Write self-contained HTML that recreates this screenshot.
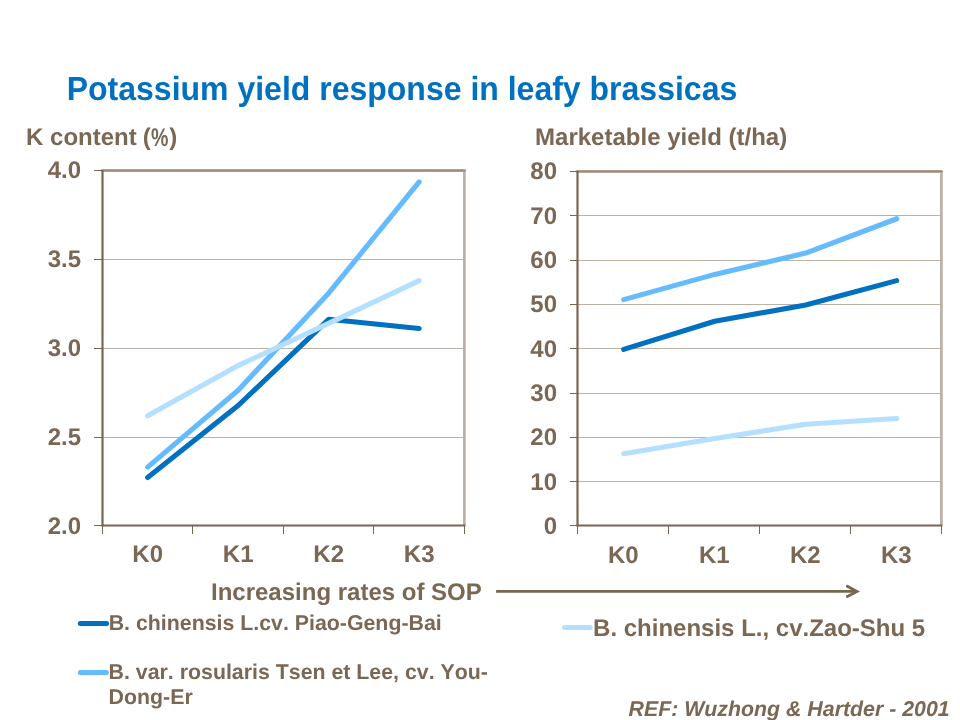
<!DOCTYPE html>
<html><head><meta charset="utf-8">
<style>
html,body{margin:0;padding:0;background:#fff;width:960px;height:720px;overflow:hidden}
svg{display:block;will-change:transform;transform:translateZ(0)}
text{font-family:"Liberation Sans",sans-serif;font-weight:bold;fill:#7a6754;font-kerning:none;text-rendering:geometricPrecision}
</style></head>
<body>
<svg width="960" height="720" viewBox="0 0 960 720">
<rect width="960" height="720" fill="#fff"/>
<!-- title -->
<text transform="translate(66.7,100) scale(1,1.045)" font-size="32" style="fill:#0070C0">Potassium yield response in leafy brassicas</text>
<text x="26.1" y="144.7" font-size="24">K content</text><text x="142.7" y="144.7" font-size="24">(</text><text transform="translate(150.9,145.9) scale(0.816,1.065)" font-size="24">%</text><text x="169.3" y="144.7" font-size="24">)</text>
<text x="535.1" y="144.7" font-size="24">Marketable yield (t/ha)</text>

<!-- LEFT CHART -->
<g>
  <!-- gridlines -->
  <g stroke="#bdb1a5" stroke-width="1" fill="none">
    <line x1="102" y1="259.5" x2="464" y2="259.5"/>
    <line x1="102" y1="348.5" x2="464" y2="348.5"/>
    <line x1="102" y1="437.5" x2="464" y2="437.5"/>
  </g>
  <!-- plot border top/right -->
  <line x1="464.4" y1="171" x2="464.4" y2="525" stroke="#bcb0a4" stroke-width="2.7"/>
  <line x1="102" y1="170.6" x2="464.6" y2="170.6" stroke="#b3a597" stroke-width="3" stroke-linecap="round"/>
  <line x1="102" y1="170.6" x2="465" y2="170.6" stroke="#9b8a7a" stroke-width="1.2"/>
  <!-- axes -->
  <g stroke="#7a6650" fill="none">
    <line x1="102.5" y1="170" x2="102.5" y2="526.5" stroke-width="2.2"/>
    <line x1="101.5" y1="525.5" x2="465.5" y2="525.5" stroke-width="2.2"/>
    <g stroke-width="1">
      <line x1="94" y1="170.5" x2="102" y2="170.5"/>
      <line x1="94" y1="259.5" x2="102" y2="259.5"/>
      <line x1="94" y1="348.5" x2="102" y2="348.5"/>
      <line x1="94" y1="437.5" x2="102" y2="437.5"/>
      <line x1="94" y1="525.5" x2="102" y2="525.5"/>
      <line x1="102.5" y1="526" x2="102.5" y2="534"/>
      <line x1="192.5" y1="526" x2="192.5" y2="534"/>
      <line x1="283.5" y1="526" x2="283.5" y2="534"/>
      <line x1="373.5" y1="526" x2="373.5" y2="534"/>
      <line x1="464.5" y1="526" x2="464.5" y2="534"/>
    </g>
  </g>
  <!-- y labels -->
  <g font-size="24" text-anchor="end">
    <text x="81" y="178">4.0</text>
    <text x="81" y="267">3.5</text>
    <text x="81" y="356">3.0</text>
    <text x="81" y="445">2.5</text>
    <text x="81" y="534">2.0</text>
  </g>
  <g font-size="24" text-anchor="middle">
    <text x="147.65" y="562">K0</text>
    <text x="238.15" y="562">K1</text>
    <text x="328.65" y="562">K2</text>
    <text x="419.15" y="562">K3</text>
  </g>
  <!-- series -->
  <g fill="none" stroke-width="5.1" stroke-linecap="round" stroke-linejoin="round">
    <polyline stroke="#0070C0" points="147.65,477.5 238.15,405.5 328.65,319.3 419.15,328.5"/>
    <polyline stroke="#66BBFF" points="147.65,467.1 238.15,390.2 328.65,293.2 419.15,181.9"/>
    <polyline stroke="#B4DFFF" points="147.65,415.8 238.15,365.6 328.65,323.4 419.15,280.6"/>
  </g>
</g>

<!-- RIGHT CHART -->
<g>
  <g stroke="#bdb1a5" stroke-width="1" fill="none">
    <line x1="577" y1="215.5" x2="941" y2="215.5"/>
    <line x1="577" y1="260.5" x2="941" y2="260.5"/>
    <line x1="577" y1="304.5" x2="941" y2="304.5"/>
    <line x1="577" y1="348.5" x2="941" y2="348.5"/>
    <line x1="577" y1="393.5" x2="941" y2="393.5"/>
    <line x1="577" y1="437.5" x2="941" y2="437.5"/>
    <line x1="577" y1="481.5" x2="941" y2="481.5"/>
  </g>
  <line x1="941.4" y1="172" x2="941.4" y2="525" stroke="#bcb0a4" stroke-width="2.7"/>
  <line x1="577" y1="171.4" x2="941.6" y2="171.4" stroke="#b3a597" stroke-width="3" stroke-linecap="round"/>
  <line x1="577" y1="171.4" x2="942" y2="171.4" stroke="#9b8a7a" stroke-width="1.2"/>
  <g stroke="#7a6650" fill="none">
    <line x1="577.5" y1="171" x2="577.5" y2="526.5" stroke-width="2.2"/>
    <line x1="576.5" y1="525.5" x2="942.5" y2="525.5" stroke-width="2.2"/>
    <g stroke-width="1">
      <line x1="570" y1="171.5" x2="577" y2="171.5"/>
      <line x1="570" y1="215.5" x2="577" y2="215.5"/>
      <line x1="570" y1="260.5" x2="577" y2="260.5"/>
      <line x1="570" y1="304.5" x2="577" y2="304.5"/>
      <line x1="570" y1="348.5" x2="577" y2="348.5"/>
      <line x1="570" y1="393.5" x2="577" y2="393.5"/>
      <line x1="570" y1="437.5" x2="577" y2="437.5"/>
      <line x1="570" y1="481.5" x2="577" y2="481.5"/>
      <line x1="570" y1="525.5" x2="577" y2="525.5"/>
      <line x1="577.5" y1="526" x2="577.5" y2="534"/>
      <line x1="668.5" y1="526" x2="668.5" y2="534"/>
      <line x1="759.5" y1="526" x2="759.5" y2="534"/>
      <line x1="850.5" y1="526" x2="850.5" y2="534"/>
      <line x1="941.5" y1="526" x2="941.5" y2="534"/>
    </g>
  </g>
  <g font-size="24" text-anchor="end">
    <text x="557" y="178.9">80</text>
    <text x="557" y="223.75">70</text>
    <text x="557" y="268">60</text>
    <text x="557" y="312.25">50</text>
    <text x="557" y="356.5">40</text>
    <text x="557" y="400.75">30</text>
    <text x="557" y="445">20</text>
    <text x="557" y="489.5">10</text>
    <text x="557" y="533.7">0</text>
  </g>
  <g font-size="24" text-anchor="middle">
    <text x="623.3" y="562.8">K0</text>
    <text x="714.3" y="562.8">K1</text>
    <text x="805.3" y="562.8">K2</text>
    <text x="896.3" y="562.8">K3</text>
  </g>
  <g fill="none" stroke-width="5.1" stroke-linecap="round" stroke-linejoin="round">
    <polyline stroke="#0070C0" points="623.7,349.4 714.7,321.25 805.7,305 896.7,280.6"/>
    <polyline stroke="#66BBFF" points="623.7,299.6 714.7,274.4 805.7,253.1 896.7,218.75"/>
    <polyline stroke="#B4DFFF" points="623.7,453.7 714.7,438.5 805.7,424.3 896.7,418.55"/>
  </g>
</g>

<!-- x axis caption + arrow -->
<text x="211" y="599.8" font-size="24">Increasing rates of SOP</text>
<g stroke="#776650" fill="none" stroke-width="2.8">
  <line x1="496.1" y1="591.4" x2="856" y2="591.4"/>
  <polyline points="847.3,586.3 857,591.4 847.3,596.5" stroke-linecap="round" stroke-linejoin="miter"/>
</g>

<!-- legend -->
<g fill="none" stroke-width="5" stroke-linecap="round">
  <line x1="80.3" y1="623.45" x2="106.6" y2="623.45" stroke="#0070C0"/>
  <line x1="80.3" y1="672.5" x2="106.4" y2="672.5" stroke="#66BBFF"/>
  <line x1="564.6" y1="627.5" x2="590.2" y2="627.5" stroke="#B4DFFF"/>
</g>
<text x="108.7" y="629.8" font-size="21.33">B. chinensis L.cv. Piao-Geng-Bai</text>
<text x="108.6" y="678.6" font-size="21.33">B. var. rosularis Tsen et Lee, cv. You-</text>
<text x="108.6" y="703.6" font-size="21.33">Dong-Er</text>
<text x="593.1" y="635.5" font-size="24">B. chinensis L., cv.Zao-Shu 5</text>

<text x="628.5" y="715.7" font-size="21.33" font-style="italic">REF: Wuzhong &amp; Hartder - 2001</text>
</svg>
</body></html>
